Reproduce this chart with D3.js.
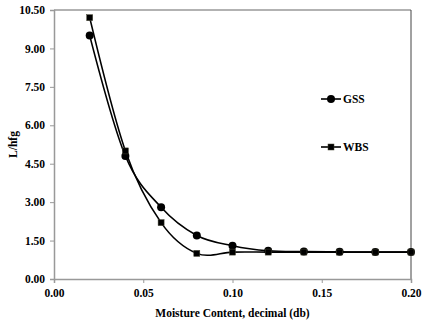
<!DOCTYPE html>
<html>
<head>
<meta charset="utf-8">
<script src="https://cdn.jsdelivr.net/npm/d3@7"></script>
<style>
  body { margin: 0; background: #fff; }
  svg { display: block; }
  svg text { font-family: "Liberation Serif", "Times New Roman", "DejaVu Serif", serif !important; font-weight: bold; }
</style>
</head>
<body>
<svg id="chart" width="423" height="324"></svg>
<script>
// moisture content (decimal, db)
const moisture = [0.02, 0.04, 0.06, 0.08, 0.10, 0.12, 0.14, 0.16, 0.18, 0.20];
const gssValues = [9.5, 4.8, 2.8, 1.7, 1.3, 1.1, 1.07, 1.06, 1.05, 1.05];
const wbsValues = [10.2, 5.0, 2.2, 1.0, 1.05, 1.05, 1.05, 1.05, 1.05, 1.05];
const xTicks = [0, 0.05, 0.10, 0.15, 0.20];
const yTicks = [0, 1.5, 3, 4.5, 6, 7.5, 9, 10.5];

const svg = d3.select('#chart');
const m = { left: 54, right: 12, top: 10, bottom: 45 };
const W = 423, H = 324;

const x = d3.scaleLinear().domain([0, 0.2]).range([m.left, W - m.right]);
const y = d3.scaleLinear().domain([0, 10.5]).range([H - m.bottom, m.top]);

// plot frame: top gray, right dark
svg.append('line')
  .attr('x1', x(0)).attr('x2', x(0.2)).attr('y1', y(10.5)).attr('y2', y(10.5))
  .attr('stroke', '#999').attr('stroke-width', 1.5);
svg.append('line')
  .attr('x1', x(0.2)).attr('x2', x(0.2)).attr('y1', y(10.5)).attr('y2', y(0))
  .attr('stroke', '#444').attr('stroke-width', 1);

const xAxis = svg.append('g')
  .attr('transform', `translate(0,${y(0)})`)
  .call(d3.axisBottom(x).tickValues(xTicks).tickFormat(d3.format('.2f')).tickSize(4).tickPadding(6));
const yAxis = svg.append('g')
  .attr('transform', `translate(${x(0)},0)`)
  .call(d3.axisLeft(y).tickValues(yTicks).tickFormat(d3.format('.2f')).tickSize(4).tickPadding(5));

[xAxis, yAxis].forEach(g => {
  g.attr('font-family', null).attr('font-size', null);
  g.select('.domain').attr('stroke', '#999').attr('stroke-width', 1.5);
  g.selectAll('.tick line').attr('stroke', '#999');
  g.selectAll('.tick text')
    .attr('fill', '#000')
    .style('font-size', '11.5px');
});

// axis titles
svg.append('text')
  .attr('x', (x(0) + x(0.2)) / 2).attr('y', 317)
  .attr('text-anchor', 'middle')
  .style('font-size', '11.5px')
  .text('Moisture Content, decimal (db)');

svg.append('text')
  .attr('transform', `translate(17,${(y(0) + y(10.5)) / 2}) rotate(-90)`)
  .attr('text-anchor', 'middle')
  .style('font-size', '11.5px')
  .text('L/hfg');

const line = d3.line()
  .x((d, i) => x(moisture[i]))
  .y(d => y(d))
  .curve(d3.curveCatmullRom.alpha(0));

const series = [
  { name: 'GSS', values: gssValues, shape: 'circle', ly: 99 },
  { name: 'WBS', values: wbsValues, shape: 'square', ly: 147 }
];

function marker(g, shape, cx, cy) {
  if (shape === 'circle') {
    g.append('circle').attr('cx', cx).attr('cy', cy).attr('r', 4).attr('fill', '#000');
  } else {
    g.append('rect').attr('x', cx - 3).attr('y', cy - 3).attr('width', 6).attr('height', 6)
      .attr('fill', '#000').attr('stroke', '#443').attr('stroke-width', 0.5);
  }
}

series.forEach(s => {
  const g = svg.append('g');
  g.append('path')
    .attr('d', line(s.values))
    .attr('fill', 'none')
    .attr('stroke', '#000')
    .attr('stroke-width', 1.6);
  s.values.forEach((v, i) => marker(g, s.shape, x(moisture[i]), y(v)));

  // legend
  const lg = svg.append('g');
  lg.append('line').attr('x1', 321).attr('x2', 341).attr('y1', s.ly).attr('y2', s.ly)
    .attr('stroke', '#000').attr('stroke-width', 1.6);
  marker(lg, s.shape, 331, s.ly);
  lg.append('text').attr('x', 343).attr('y', s.ly + 4)
    .style('font-size', '11.5px').text(s.name);
});
</script>
</body>
</html>
